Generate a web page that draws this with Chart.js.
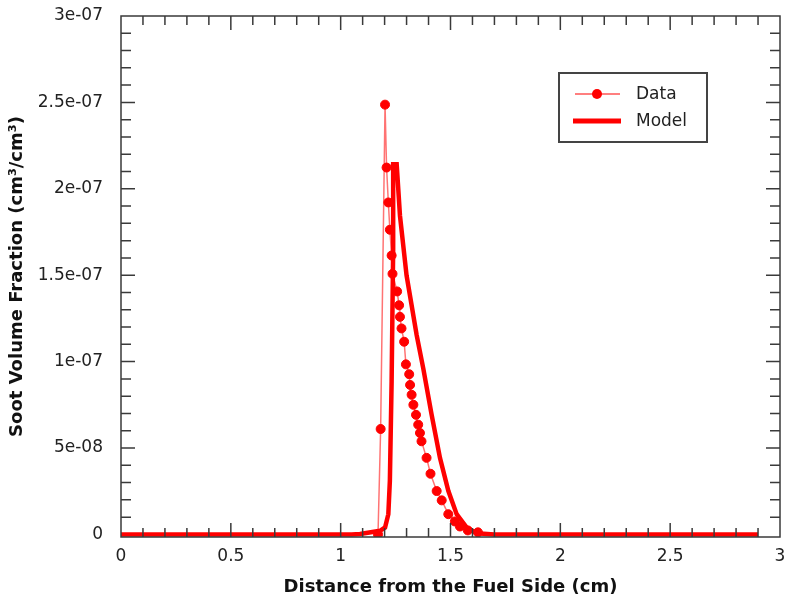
<!DOCTYPE html>
<html>
<head>
<meta charset="utf-8">
<script src="https://cdn.jsdelivr.net/npm/chart.js@4.4.1/dist/chart.umd.min.js"></script>
<style>
  html, body { margin: 0; padding: 0; background: #fff; }
</style>
</head>
<body>
<canvas id="myChart" width="786" height="601"></canvas>
<script>
// measured soot volume fraction (cm3/cm3) vs distance (cm)
var dataX = [1.17, 1.182, 1.202, 1.209, 1.217, 1.224, 1.232, 1.236, 1.257, 1.266, 1.270,
	1.277, 1.289, 1.297, 1.312, 1.316, 1.323, 1.331, 1.343, 1.353, 1.361, 1.368,
	1.391, 1.409, 1.437, 1.460, 1.490, 1.520, 1.543, 1.579, 1.625];
var dataY = [0, 0.610e-7, 2.487e-7, 2.123e-7, 1.921e-7, 1.763e-7, 1.614e-7, 1.508e-7, 1.406e-7, 1.326e-7, 1.259e-7,
	1.192e-7, 1.115e-7, 0.984e-7, 0.927e-7, 0.865e-7, 0.808e-7, 0.750e-7, 0.692e-7, 0.635e-7, 0.587e-7, 0.539e-7,
	0.443e-7, 0.351e-7, 0.251e-7, 0.197e-7, 0.117e-7, 0.075e-7, 0.046e-7, 0.023e-7, 0.012e-7];

// model curve
var modelX = [0, 1.05, 1.088, 1.179, 1.202, 1.217, 1.224, 1.232, 1.239, 1.239, 1.255, 1.270,
	1.300, 1.346, 1.376, 1.414, 1.452, 1.490, 1.528, 1.574, 1.619, 1.70, 2.9];
var modelY = [0, 0, 0.002e-7, 0.021e-7, 0.040e-7, 0.117e-7, 0.311e-7, 0.887e-7, 1.652e-7, 2.142e-7, 2.142e-7, 1.844e-7,
	1.499e-7, 1.153e-7, 0.961e-7, 0.693e-7, 0.443e-7, 0.252e-7, 0.117e-7, 0.040e-7, 0.006e-7, 0, 0];

var xTickVals = [0, 0.5, 1, 1.5, 2, 2.5, 3];
var xTickLabels = ['0', '0.5', '1', '1.5', '2', '2.5', '3'];
var yTickVals = [0, 5e-8, 1e-7, 1.5e-7, 2e-7, 2.5e-7, 3e-7];
var yTickLabels = ['0', '5e-08', '1e-07', '1.5e-07', '2e-07', '2.5e-07', '3e-07'];

var seriesNames = ['Data', 'Model'];

function toPoints(xs, ys){
	var out = [];
	for (var i = 0; i < xs.length; i++) {
		out.push({x: xs[i], y: ys[i]});
	}
	return out;
}

// frame with inward ticks on all sides + boxed legend
var frameTicks = {
	id: 'frameTicks',
	afterDatasetsDraw: function(chart){
		var ctx = chart.ctx;
		var a = chart.chartArea;
		var x = chart.scales.x;
		var y = chart.scales.y;
		ctx.save();
		ctx.strokeStyle = '#3a3a3a';
		ctx.lineWidth = 1.5;
		ctx.strokeRect(a.left, a.top, a.right - a.left, a.bottom - a.top);
		ctx.beginPath();
		for (var i = 1; i < 30; i++) {
			var px = x.getPixelForValue(i / 10);
			var len = (i % 5 == 0) ? 14 : 9;
			ctx.moveTo(px, a.bottom); ctx.lineTo(px, a.bottom - len);
			ctx.moveTo(px, a.top); ctx.lineTo(px, a.top + len);
		}
		for (var j = 1; j < 30; j++) {
			var py = y.getPixelForValue(j * 1e-8);
			var ln = (j % 5 == 0) ? 14 : 10;
			ctx.moveTo(a.left, py); ctx.lineTo(a.left + ln, py);
			ctx.moveTo(a.right, py); ctx.lineTo(a.right - ln, py);
		}
		ctx.stroke();

		// legend
		ctx.lineWidth = 2;
		ctx.strokeStyle = '#444';
		ctx.strokeRect(559, 73, 148, 69);
		ctx.strokeStyle = 'rgba(255,0,0,0.5)';
		ctx.lineWidth = 2;
		ctx.beginPath(); ctx.moveTo(575, 94); ctx.lineTo(620, 94); ctx.stroke();
		ctx.fillStyle = '#ff0000';
		ctx.beginPath(); ctx.arc(597, 94, 5, 0, Math.PI * 2); ctx.fill();
		ctx.strokeStyle = '#ff0000';
		ctx.lineWidth = 5;
		ctx.beginPath(); ctx.moveTo(573, 121); ctx.lineTo(621, 121); ctx.stroke();
		ctx.fillStyle = '#222';
		ctx.font = '17px "DejaVu Sans"';
		ctx.textBaseline = 'middle';
		ctx.fillText(seriesNames[0], 636, 95);
		ctx.fillText(seriesNames[1], 636, 122);
		ctx.restore();
	}
};

function grafon(){
	var ctx = document.getElementById('myChart').getContext('2d');
	var chart = new Chart(ctx, {
		type: 'scatter',
		data: {
			datasets: [{
				label: seriesNames[0],
				data: toPoints(dataX, dataY),
				showLine: true,
				borderColor: 'rgba(255,0,0,0.55)',
				borderWidth: 1.5,
				pointRadius: 4.5,
				pointBorderWidth: 1,
				pointBackgroundColor: '#ff0000',
				pointBorderColor: '#ff0000'
			}, {
				label: seriesNames[1],
				data: toPoints(modelX, modelY),
				showLine: true,
				borderColor: '#ff0000',
				borderWidth: 4.5,
				pointRadius: 0
			}]
		},
		options: {
			responsive: false,
			animation: false,
			layout: { padding: { left: 0, right: 6, top: 16, bottom: 0 } },
			plugins: { legend: { display: false }, tooltip: { enabled: false } },
			scales: {
				x: {
					type: 'linear',
					min: 0, max: 3,
					afterBuildTicks: function(s){ s.ticks = xTickVals.map(function(v){ return {value: v}; }); },
					afterFit: function(s){ s.height = 64; s.paddingLeft = 0; s.paddingRight = 0; },
					grid: { display: false, drawTicks: false },
					border: { display: false },
					ticks: {
						padding: 9,
						maxRotation: 0,
						color: '#222',
						font: { family: 'DejaVu Sans', size: 17 },
						callback: function(v, i){ return xTickLabels[i]; }
					},
					title: {
						display: true,
						text: 'Distance from the Fuel Side (cm)',
						color: '#111',
						font: { family: 'DejaVu Sans', size: 18, weight: 'bold' },
						padding: { top: 0, bottom: 3 }
					}
				},
				y: {
					type: 'linear',
					min: -1.5e-9, max: 3e-7,
					afterBuildTicks: function(s){ s.ticks = yTickVals.map(function(v){ return {value: v}; }); },
					afterFit: function(s){ s.width = 121; s.paddingTop = 0; s.paddingBottom = 0; },
					grid: { display: false, drawTicks: false },
					border: { display: false },
					ticks: {
						padding: 18,
						color: '#222',
						font: { family: 'DejaVu Sans', size: 17 },
						callback: function(v, i){ return yTickLabels[i]; }
					},
					title: {
						display: true,
						text: 'Soot Volume Fraction (cm\u00B3/cm\u00B3)',
						color: '#111',
						font: { family: 'DejaVu Sans', size: 18, weight: 'bold' },
						padding: { top: 7, bottom: 0 }
					}
				}
			}
		},
		plugins: [frameTicks]
	});
}

grafon();
</script>
</body>
</html>
